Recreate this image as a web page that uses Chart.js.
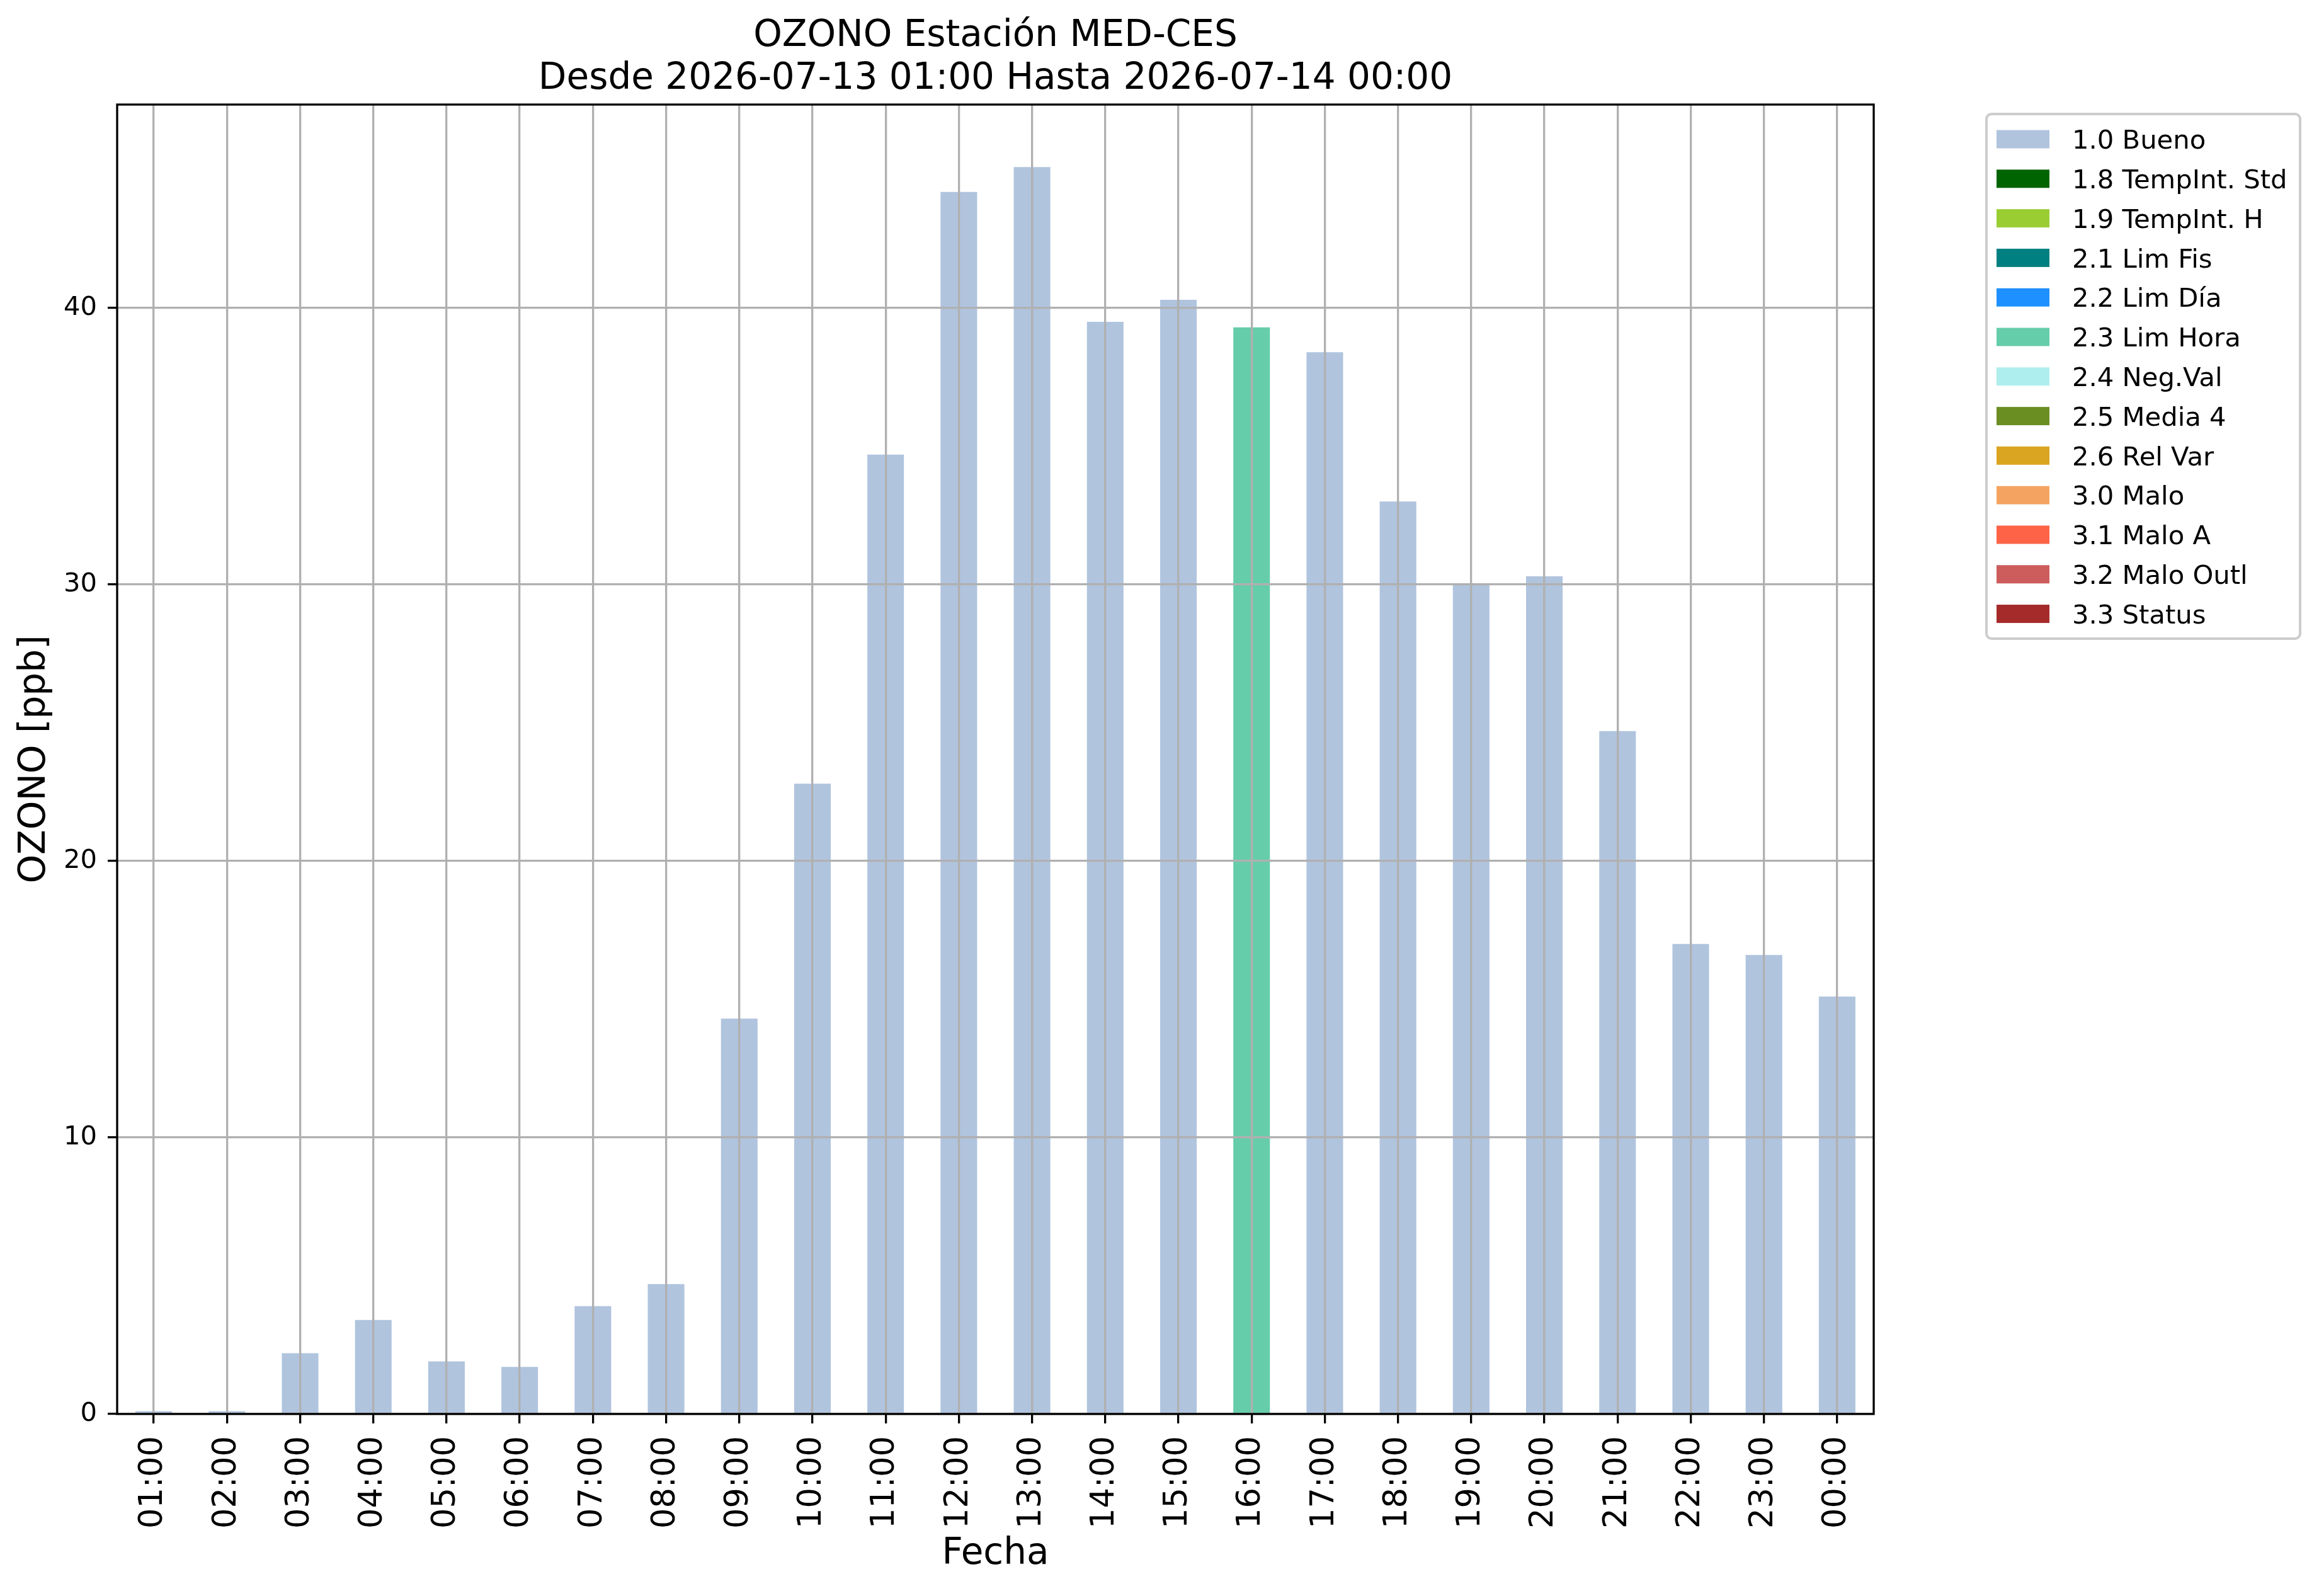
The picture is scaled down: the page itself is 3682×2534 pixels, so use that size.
<!DOCTYPE html>
<html lang="es">
<head>
<meta charset="UTF-8">
<title>OZONO Estación MED-CES</title>
<script src="https://cdn.jsdelivr.net/npm/chart.js"></script>
<style>
    html, body { margin: 0; padding: 0; background: #fff; }
    #wrap { width: 3682px; height: 2534px; }
</style>
</head>
<body>
<div id="wrap"><canvas id="ozoneChart" width="3682" height="2534"></canvas></div>
<script>
// hourly values, 2026-07-13 01:00 .. 2026-07-14 00:00
const hours = ['01:00', '02:00', '03:00', '04:00', '05:00', '06:00', '07:00', '08:00',
               '09:00', '10:00', '11:00', '12:00', '13:00', '14:00', '15:00', '16:00',
               '17:00', '18:00', '19:00', '20:00', '21:00', '22:00', '23:00', '00:00'];
const ozone = [0.1, 0.1, 2.2, 3.4, 1.9, 1.7, 3.9, 4.7,
               14.3, 22.8, 34.7, 44.2, 45.1, 39.5, 40.3, 39.3,
               38.4, 33.0, 30.0, 30.3, 24.7, 17.0, 16.6, 15.1];
// quality flag of each hour
const flags = ['1.0', '1.0', '1.0', '1.0', '1.0', '1.0', '1.0', '1.0',
               '1.0', '1.0', '1.0', '1.0', '1.0', '1.0', '1.0', '2.3',
               '1.0', '1.0', '1.0', '1.0', '1.0', '1.0', '1.0', '1.0'];

const flagCodes = ['1.0', '1.8', '1.9', '2.1', '2.2', '2.3', '2.4', '2.5', '2.6', '3.0', '3.1', '3.2', '3.3'];
const flagNames = ['1.0 Bueno', '1.8 TempInt. Std', '1.9 TempInt. H', '2.1 Lim Fis', '2.2 Lim Día',
                   '2.3 Lim Hora', '2.4 Neg.Val', '2.5 Media 4', '2.6 Rel Var', '3.0 Malo',
                   '3.1 Malo A', '3.2 Malo Outl', '3.3 Status'];
const flagColors = ['#b0c4de', '#006400', '#9acd32', '#008080', '#1e90ff', '#66cdaa', '#afeeee',
                    '#6b8e23', '#daa520', '#f4a460', '#ff6347', '#cd5c5c', '#a52a2a'];

const yTicks = [0, 10, 20, 30, 40];
const yMax = 47.36;

const titleLines = ['OZONO Estación MED-CES', 'Desde 2026-07-13 01:00 Hasta 2026-07-14 00:00'];
const yLabel = 'OZONO [ppb]';
const xLabel = 'Fecha';

const FONT = "'DejaVu Sans', 'Liberation Sans', sans-serif";

// one stacked dataset per flag, like the pandas plot
const datasets = flagCodes.map((code, i) => ({
    label: flagNames[i],
    data: ozone.map((v, j) => flags[j] === code ? v : null),
    backgroundColor: flagColors[i],
    borderWidth: 0,
    barPercentage: 0.5,
    categoryPercentage: 1.0
}));

// title centred over the axes, not over the whole canvas
const axesTitle = {
    id: 'axesTitle',
    afterDraw(chart) {
        const {ctx, chartArea} = chart;
        const cx = (chartArea.left + chartArea.right) / 2;
        ctx.save();
        ctx.fillStyle = '#000';
        ctx.font = '58px ' + FONT;
        ctx.textAlign = 'center';
        ctx.textBaseline = 'alphabetic';
        ctx.fillText(titleLines[0], cx, 73);
        ctx.fillText(titleLines[1], cx, 141);
        ctx.restore();
    }
};

// the four spines
const axesFrame = {
    id: 'axesFrame',
    afterDraw(chart) {
        const {ctx, chartArea: a} = chart;
        ctx.save();
        ctx.strokeStyle = '#000';
        ctx.lineWidth = 3.3;
        ctx.strokeRect(a.left, a.top, a.right - a.left, a.bottom - a.top);
        ctx.restore();
    }
};

// legend outside the axes, matplotlib style with a rounded frame
const boxLegend = {
    id: 'boxLegend',
    afterDraw(chart) {
        const ctx = chart.ctx;
        const x0 = 3154, y0 = 181, w = 498, h = 833;
        const rowH = 62.8, firstRow = 221;
        ctx.save();
        ctx.beginPath();
        ctx.roundRect(x0, y0, w, h, 8);
        ctx.fillStyle = 'rgba(255,255,255,0.8)';
        ctx.fill();
        ctx.lineWidth = 4;
        ctx.strokeStyle = '#cccccc';
        ctx.stroke();
        ctx.font = '41.7px ' + FONT;
        ctx.textAlign = 'left';
        ctx.textBaseline = 'alphabetic';
        chart.data.datasets.forEach((ds, i) => {
            const cy = firstRow + i * rowH;
            ctx.fillStyle = ds.backgroundColor;
            ctx.fillRect(3170, cy - 14.5, 84, 29);
            ctx.fillStyle = '#000';
            ctx.fillText(ds.label, 3290, cy + 15.2);
        });
        ctx.restore();
    }
};

new Chart(document.getElementById('ozoneChart'), {
    type: 'bar',
    data: {
        labels: hours,
        datasets: datasets
    },
    options: {
        responsive: false,
        devicePixelRatio: 1,
        animation: false,
        events: [],
        layout: {
            padding: { left: 0, top: 166, right: 707, bottom: 0 }
        },
        plugins: {
            legend: { display: false },
            title: { display: false },
            tooltip: { enabled: false }
        },
        scales: {
            x: {
                stacked: true,
                offset: true,
                afterFit(scale) { scale.height = 289; },
                grid: {
                    offset: false,
                    color: '#b0b0b0',
                    lineWidth: 3.3,
                    drawTicks: true,
                    tickLength: 15,
                    tickColor: '#000',
                    tickWidth: 3.3,
                    z: 1
                },
                border: { display: false },
                ticks: {
                    autoSkip: false,
                    minRotation: 90,
                    maxRotation: 90,
                    padding: 20,
                    color: '#000',
                    font: { family: FONT, size: 51 }
                },
                title: {
                    display: true,
                    text: xLabel,
                    color: '#000',
                    font: { family: FONT, size: 58 },
                    padding: { top: 0, bottom: 31 }
                }
            },
            y: {
                stacked: true,
                min: 0,
                max: yMax,
                afterFit(scale) { scale.width = 186; },
                afterBuildTicks(scale) {
                    scale.ticks = yTicks.map(v => ({ value: v }));
                },
                grid: {
                    color: '#b0b0b0',
                    lineWidth: 3.3,
                    drawTicks: true,
                    tickLength: 15,
                    tickColor: '#000',
                    tickWidth: 3.3,
                    z: 1
                },
                border: { display: false },
                ticks: {
                    padding: 17,
                    color: '#000',
                    font: { family: FONT, size: 41.7 }
                },
                title: {
                    display: true,
                    text: yLabel,
                    color: '#000',
                    font: { family: FONT, size: 58 },
                    padding: { top: 21, bottom: 0 }
                }
            }
        }
    },
    plugins: [axesTitle, axesFrame, boxLegend]
});
</script>
</body>
</html>
